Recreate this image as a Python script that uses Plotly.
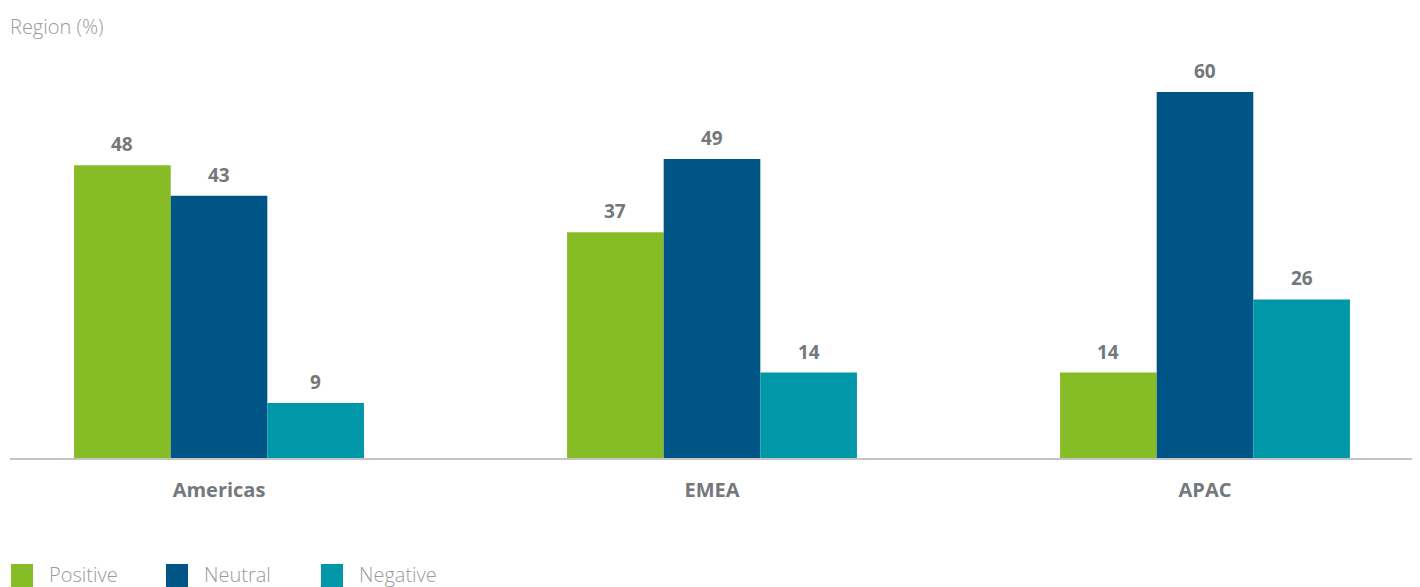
import plotly.graph_objects as go

categories = ["Americas", "EMEA", "APAC"]
series_names = ["Positive", "Neutral", "Negative"]
positive = [48, 37, 14]
neutral = [43, 49, 60]
negative = [9, 14, 26]
colors = ["#86bc25", "#005587", "#0097a9"]

LABEL_GREY = "#75787b"
LIGHT_GREY = "#9a9a9a"

BARGAP = 0.412
n_series = len(series_names)
bar_w = (1 - BARGAP) / n_series

fig = go.Figure()
all_vals = [positive, neutral, negative]
for name, vals, col in zip(series_names, all_vals, colors):
    fig.add_trace(go.Bar(
        x=list(range(len(categories))), y=vals, name=name,
        marker=dict(color=col, line=dict(width=0)),
        showlegend=False, hoverinfo="y",
    ))

# value labels above bars
for k, vals in enumerate(all_vals):
    for i, v in enumerate(vals):
        fig.add_annotation(
            x=i + (k - (n_series - 1) / 2) * bar_w, y=v, xref="x", yref="y",
            text=str(v), showarrow=False, yanchor="bottom", yshift=6,
            font=dict(family="Open Sans", size=19, color=LABEL_GREY, weight="bold"),
        )

W, H = 1420, 587
OFF = 8  # page body margin
ml, mr, mt, mb = 10 - OFF, 13, 31 - OFF, 587 - (458 - OFF)

fig.update_layout(
    width=W, height=H,
    margin=dict(l=ml, r=mr, t=mt, b=mb, pad=0),
    plot_bgcolor="white", paper_bgcolor="white",
    barmode="group", bargap=BARGAP, bargroupgap=0,
    xaxis=dict(
        range=[-0.424, 2.426], tickmode="array",
        tickvals=list(range(len(categories))), ticktext=categories,
        showline=True, linecolor="#c4c4c4", linewidth=1.5,
        showgrid=False, zeroline=False, ticks="",
        ticklabelstandoff=13,
        tickfont=dict(family="Open Sans", size=20, color=LABEL_GREY, weight="bold"),
        fixedrange=True,
    ),
    yaxis=dict(range=[0, 70], visible=False, showgrid=False, zeroline=False, fixedrange=True),
    showlegend=False,
    font=dict(family="Open Sans"),
)

pw = W - ml - mr
ph = H - mt - mb
def px_x(x):
    return (x - OFF - ml) / pw
def px_y(y):
    return (H - mb - (y - OFF)) / ph

# Title
fig.add_annotation(
    text="Region (%)", xref="paper", yref="paper",
    x=px_x(8), xanchor="left", y=px_y(27), yanchor="middle",
    showarrow=False,
    font=dict(family="Open Sans", size=20, color=LIGHT_GREY, weight=300),
)

# Manual legend
for i, (name, col) in enumerate(zip(series_names, colors)):
    x0 = 11 + i * 155
    fig.add_shape(type="rect", xref="paper", yref="paper",
                  x0=px_x(x0), x1=px_x(x0 + 22), y0=px_y(600), y1=px_y(564),
                  fillcolor=col, line=dict(width=0), layer="above")
    fig.add_annotation(
        text=name, xref="paper", yref="paper",
        x=px_x(x0 + 36), xanchor="left", y=px_y(574), yanchor="middle",
        showarrow=False,
        font=dict(family="Open Sans", size=20, color=LIGHT_GREY, weight=300),
    )

fig.write_html("out.html")
